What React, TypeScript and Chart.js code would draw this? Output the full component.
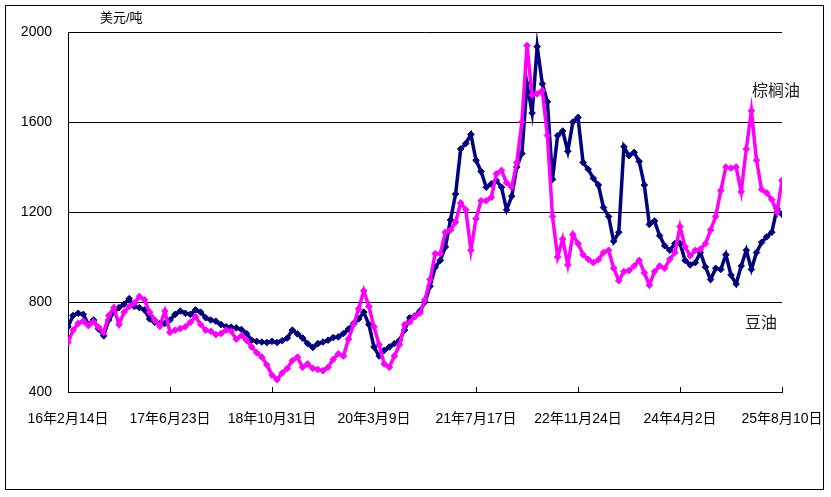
import React, { useEffect, useRef } from "react";
import { Chart, registerables } from "chart.js";

Chart.register(...registerables);

// x-axis tick labels (every 20 sample points)
const tickLabels = [
  "16年2月14日",
  "17年6月23日",
  "18年10月31日",
  "20年3月9日",
  "21年7月17日",
  "22年11月24日",
  "24年4月2日",
  "25年8月10日",
];

const unitLabel = "美元/吨";
const palmName = "棕榈油";
const soyName = "豆油";

// 棕榈油 (magenta), USD/t
const palmValues = [
  620, 675, 705, 715, 695, 712, 688, 665, 740, 775,
  700, 755, 780, 795, 825, 810, 755, 720, 692, 760,
  665, 675, 682, 690, 710, 735, 700, 675, 670, 655,
  660, 675, 670, 635, 650, 630, 600, 575, 555, 520,
  475, 455, 485, 505, 540, 555, 510, 525, 505, 500,
  495, 510, 545, 570, 560, 635, 700, 770, 850, 780,
  690, 610, 525, 510, 560, 610, 700, 710, 735, 750,
  810, 900, 1015, 1015, 1110, 1120, 1155, 1240, 1210, 1030,
  1170, 1250, 1250, 1265, 1370, 1385, 1330, 1310, 1420, 1600,
  1940, 1720, 1725, 1740, 1540, 1180, 1000, 1080, 965, 1100,
  1060, 1010, 990, 975, 988, 1020, 1030, 950, 895, 935,
  940, 960, 985, 930, 875, 935, 960, 950, 990, 1020,
  1135, 1045, 1005, 1030, 1035, 1060, 1120, 1180, 1295, 1400,
  1395, 1400, 1290, 1480, 1650, 1430, 1300, 1285, 1255, 1200,
  1340,
];

// 豆油 (navy), USD/t
const soyValues = [
  690, 740, 750, 745, 700, 720, 680, 650, 720, 755,
  775, 790, 815, 780, 775, 765, 725, 710, 705, 705,
  720, 745, 760, 750, 745, 765, 755, 730, 720, 715,
  700, 690, 688, 685, 678, 660, 630, 625, 622, 620,
  625, 620, 628, 640, 675, 658, 640, 615, 598, 615,
  622, 630, 642, 645, 660, 680, 705, 725, 755, 700,
  600, 560, 585, 600, 615, 630, 675, 730, 738, 760,
  800, 870, 955, 985, 1045, 1165, 1280, 1480, 1505, 1545,
  1430, 1380, 1310, 1325, 1340, 1310, 1210, 1270, 1400, 1460,
  1770, 1640, 1935, 1770, 1690, 1345, 1540, 1560, 1470, 1600,
  1620, 1420, 1390, 1350, 1320, 1220, 1180, 1070, 1110, 1490,
  1450, 1465, 1425, 1320, 1145, 1160, 1095, 1050, 1030, 1060,
  1060, 985, 965, 975, 1020, 955, 900, 950, 945, 1010,
  920, 880, 960, 1030, 945, 1020, 1065, 1090, 1110, 1215,
  1190,
];

const yTicks = [400, 800, 1200, 1600, 2000];

const FONT = "'Liberation Sans', 'Noto Sans CJK SC', Arial, sans-serif";

export default function App() {
  const ref = useRef<HTMLCanvasElement | null>(null);

  useEffect(() => {
    if (!ref.current) return;
    const decor = {
      id: "decor",
      afterDraw(chart: any) {
        const ctx = chart.ctx;
        const xs = chart.scales.x;
        const area = chart.chartArea;
        ctx.save();
        // outer frame
        ctx.strokeStyle = "#000";
        ctx.lineWidth = 1;
        ctx.strokeRect(5.5, 5.5, 818, 484);
        // inner x ticks
        ctx.beginPath();
        for (let i = 1; i < tickLabels.length; i++) {
          const px = Math.round(xs.getPixelForValue(i * 20)) + 0.5;
          ctx.moveTo(px, area.bottom);
          ctx.lineTo(px, area.bottom - 5);
        }
        ctx.stroke();
        // texts
        ctx.fillStyle = "#000";
        ctx.textBaseline = "middle";
        ctx.textAlign = "left";
        ctx.font = "13px " + FONT;
        ctx.fillText(unitLabel, 100, 18);
        ctx.fillStyle = "#222";
        ctx.font = "16px " + FONT;
        ctx.fillText(palmName, 752, 92);
        ctx.fillText(soyName, 745, 324);
        ctx.restore();
      },
    };

    const chart = new Chart(ref.current, {
      type: "line",
      data: {
        datasets: [
          {
            label: palmName,
            data: palmValues.map((y, i) => ({ x: i, y })),
            borderColor: "#FF00FF",
            backgroundColor: "#FF00FF",
            borderWidth: 3.5,
            pointStyle: "rectRot",
            pointRadius: 3.3,
            pointBorderWidth: 1,
            tension: 0,
          },
          {
            label: soyName,
            data: soyValues.map((y, i) => ({ x: i, y })),
            borderColor: "#000080",
            backgroundColor: "#000080",
            borderWidth: 3.5,
            pointStyle: "rectRot",
            pointRadius: 3.3,
            pointBorderWidth: 1,
            tension: 0,
          },
        ],
      },
      options: {
        animation: false,
        responsive: false,
        layout: { padding: { left: 0, top: 32, right: 49, bottom: 0 } },
        plugins: { legend: { display: false }, tooltip: { enabled: false } },
        scales: {
          x: {
            type: "linear",
            min: 0,
            max: (tickLabels.length - 1) * 20,
            grid: { display: false, drawTicks: false },
            border: { display: true, color: "#000", width: 1 },
            ticks: {
              stepSize: 20,
              autoSkip: false,
              maxRotation: 0,
              padding: 19,
              color: "#000",
              font: { family: FONT, size: 14 },
              callback: (v: any) => tickLabels[Math.round(Number(v) / 20)] ?? "",
            },
            afterFit: (s: any) => {
              s.height = 105;
              s.paddingLeft = 0;
              s.paddingRight = 0;
            },
          },
          y: {
            min: yTicks[0],
            max: yTicks[yTicks.length - 1],
            grid: { color: "#000", lineWidth: 1, drawTicks: false },
            border: { display: true, color: "#000", width: 1 },
            ticks: {
              stepSize: 400,
              padding: 16,
              color: "#000",
              font: { family: FONT, size: 14 },
              callback: (v: any) => String(v),
            },
            afterFit: (s: any) => {
              s.width = 68;
            },
          },
        },
      },
      plugins: [decor],
    });
    return () => chart.destroy();
  }, []);

  return (
    <div style={{ position: "absolute", left: 0, top: 0, width: 831, height: 497, background: "#fff" }}>
      <canvas ref={ref} width={831} height={497} style={{ display: "block" }} />
    </div>
  );
}
